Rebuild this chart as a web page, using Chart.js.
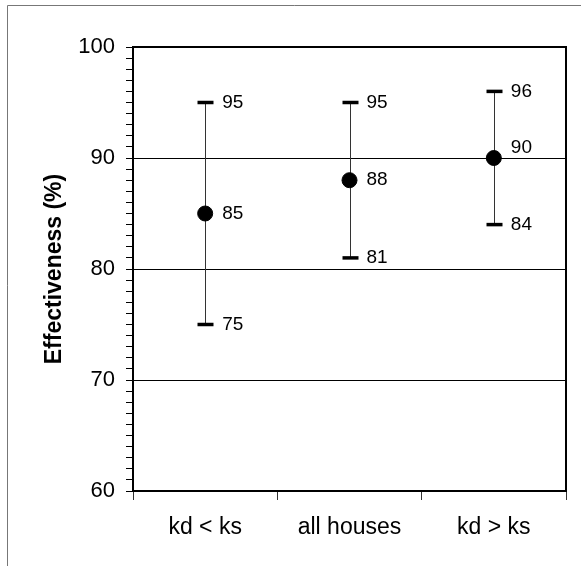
<!DOCTYPE html>
<html>
<head>
<meta charset="utf-8">
<script src="https://cdn.jsdelivr.net/npm/chart.js@4/dist/chart.umd.min.js"></script>
<style>
    body { margin: 0; background: #fff; }
    canvas { display: block; }
</style>
</head>
<body>
<canvas id="chart" width="581" height="566"></canvas>
<script>
// Datos
const categories = ['kd < ks', 'all houses', 'kd > ks'];
const meanValues = [85, 88, 90];
const lowValues = [75, 81, 84];
const highValues = [95, 95, 96];

const FONT = "'Liberation Sans', Arial, sans-serif";

// Dibuja el marco exterior, el borde del área, las barras de error y las etiquetas
const errorBarPlugin = {
    id: 'errorBars',
    beforeDraw(chart) {
        const ctx = chart.ctx;
        ctx.save();
        ctx.strokeStyle = '#777';
        ctx.lineWidth = 1;
        ctx.beginPath();
        ctx.moveTo(7.5, 566);
        ctx.lineTo(7.5, 5.5);
        ctx.lineTo(581, 5.5);
        ctx.stroke();
        ctx.restore();
    },
    beforeDatasetsDraw(chart) {
        const ctx = chart.ctx;
        const x = chart.scales.x;
        const y = chart.scales.y;
        ctx.save();
        categories.forEach((cat, i) => {
            const cx = Math.round(x.getPixelForValue(i)) + 0.5;
            const yHigh = y.getPixelForValue(highValues[i]);
            const yLow = y.getPixelForValue(lowValues[i]);

            ctx.strokeStyle = '#333';
            ctx.lineWidth = 1;
            ctx.beginPath();
            ctx.moveTo(cx, yHigh);
            ctx.lineTo(cx, yLow);
            ctx.stroke();

            ctx.strokeStyle = '#000';
            ctx.lineWidth = 3.5;
            [yHigh, yLow].forEach(py => {
                ctx.beginPath();
                ctx.moveTo(cx - 8, py);
                ctx.lineTo(cx + 8, py);
                ctx.stroke();
            });
        });
        ctx.restore();
    },
    afterDatasetsDraw(chart) {
        const ctx = chart.ctx;
        const x = chart.scales.x;
        const y = chart.scales.y;
        ctx.save();
        ctx.fillStyle = '#000';
        ctx.font = `19px ${FONT}`;
        ctx.textAlign = 'left';
        ctx.textBaseline = 'middle';
        categories.forEach((cat, i) => {
            const tx = x.getPixelForValue(i) + 17;
            ctx.fillText(highValues[i], tx, y.getPixelForValue(highValues[i]));
            ctx.fillText(lowValues[i], tx, y.getPixelForValue(lowValues[i]));
            // si la media cae sobre una línea de la grilla, subimos el texto
            const lift = meanValues[i] % 10 === 0 ? 10 : 0;
            ctx.fillText(meanValues[i], tx, y.getPixelForValue(meanValues[i]) - lift);
        });
        ctx.restore();
    },
    afterDraw(chart) {
        const { left, right, top, bottom } = chart.chartArea;
        const ctx = chart.ctx;
        ctx.save();
        ctx.strokeStyle = '#000';
        ctx.lineWidth = 2;
        ctx.beginPath();
        ctx.moveTo(left, top);
        ctx.lineTo(right, top);
        ctx.lineTo(right, bottom);
        ctx.stroke();
        ctx.restore();
    }
};

new Chart(document.getElementById('chart'), {
    type: 'line',
    data: {
        labels: categories,
        datasets: [{
            data: meanValues,
            showLine: false,
            pointRadius: 7.5,
            pointHoverRadius: 7.5,
            pointBackgroundColor: '#000',
            pointBorderColor: '#000',
            pointBorderWidth: 1
        }]
    },
    options: {
        responsive: false,
        animation: false,
        layout: {
            padding: { top: 47, right: 15, left: 0, bottom: 0 }
        },
        plugins: {
            legend: { display: false },
            tooltip: { enabled: false }
        },
        scales: {
            x: {
                type: 'category',
                offset: true,
                afterFit(scale) { scale.height = 75; },
                grid: {
                    offset: true,
                    drawOnChartArea: false,
                    tickLength: 9,
                    color: '#333'
                },
                border: { color: '#000', width: 2 },
                ticks: {
                    color: '#000',
                    padding: 14,
                    font: { family: FONT, size: 23 }
                }
            },
            y: {
                min: 60,
                max: 100,
                afterFit(scale) { scale.width = 133; },
                ticks: {
                    stepSize: 1,
                    autoSkip: false,
                    color: '#000',
                    padding: 11,
                    font: { family: FONT, size: 22 },
                    callback: value => (value % 10 === 0 ? value : '')
                },
                grid: {
                    color: ctx => (ctx.tick && ctx.tick.value % 10 === 0 ? '#000' : 'rgba(0,0,0,0)'),
                    tickColor: '#000',
                    tickLength: 7,
                    lineWidth: 1
                },
                border: { color: '#000', width: 2 },
                title: {
                    display: true,
                    text: 'Effectiveness (%)',
                    color: '#000',
                    padding: { top: 41, bottom: 0 },
                    font: { family: FONT, size: 23, weight: 'bold' }
                }
            }
        }
    },
    plugins: [errorBarPlugin]
});
</script>
</body>
</html>
